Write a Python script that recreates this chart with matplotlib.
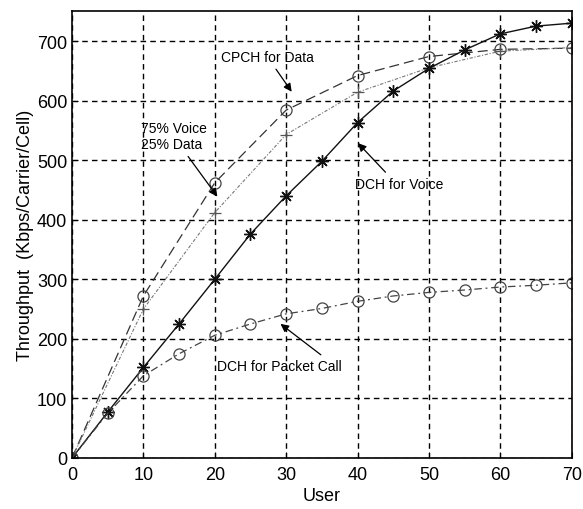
import matplotlib
matplotlib.use("Agg")
import matplotlib.pyplot as plt

# Data
x_data = [0, 10, 20, 30, 40, 50, 60, 70]
cpch_data = [0, 272, 462, 584, 642, 674, 686, 688]
mix_data = [0, 250, 412, 543, 614, 655, 683, 689]

x_five = [0, 5, 10, 15, 20, 25, 30, 35, 40, 45, 50, 55, 60, 65, 70]
dch_voice = [0, 77, 152, 225, 300, 376, 440, 498, 563, 616, 654, 685, 712, 725, 730]
dch_packet = [0, 75, 138, 175, 206, 225, 242, 251, 263, 272, 278, 282, 287, 290, 294]

xticks = [0, 10, 20, 30, 40, 50, 60, 70]
yticks = [0, 100, 200, 300, 400, 500, 600, 700]

plt.rcParams['font.family'] = ['Liberation Sans', 'DejaVu Sans']

fig = plt.figure(figsize=(5.83, 5.10), dpi=100)
ax = fig.add_axes([0.1235, 0.1, 0.857, 0.876])

ax.plot(x_data, cpch_data, color='#333333', lw=0.9, ls=(0, (8, 4)),
        marker='o', ms=8, mfc='none', mec='#444444', mew=0.9)
ax.plot(x_data, mix_data, color='#777777', lw=0.8, ls=(0, (3, 1.5, 1, 1.5)),
        marker='+', ms=8, mec='#555555', mew=0.9)
ax.plot(x_five, dch_voice, color='#111111', lw=1.0, ls='-',
        marker=(8, 2, 0), ms=9, mec='#111111', mew=1.0)
ax.plot(x_five, dch_packet, color='#444444', lw=0.9, ls=(0, (6, 3, 1.5, 3)),
        marker='o', ms=8, mfc='none', mec='#444444', mew=0.9)

ax.set_xlim(0, 70)
ax.set_ylim(0, 750)
ax.set_xticks(xticks)
ax.set_yticks(yticks)
ax.tick_params(direction='in', labelsize=13, length=4, color='black')
ax.tick_params(axis='x', pad=6)
ax.grid(True, color='black', ls=(0, (4, 3)), lw=1.0)
for s in ax.spines.values():
    s.set_linewidth(1.2)

ax.set_xlabel('User', fontsize=13, labelpad=3)
ax.set_ylabel('Throughput  (Kbps/Carrier/Cell)', fontsize=13, labelpad=2)

ap = dict(arrowstyle='-|>', color='black', lw=0.9, mutation_scale=12)
ax.annotate('CPCH for Data', xy=(31.0, 611), xytext=(20.9, 673),
            fontsize=10, va='center', ha='left', arrowprops=ap)
ax.annotate('75% Voice\n25% Data', xy=(20.6, 435), xytext=(9.6, 540),
            fontsize=10, va='center', ha='left', arrowprops=ap,
            linespacing=1.2)
ax.annotate('DCH for Voice', xy=(39.8, 532), xytext=(39.6, 460),
            fontsize=10, va='center', ha='left',
            arrowprops=dict(ap, relpos=(0.4, 1.0)))
ax.annotate('DCH for Packet Call', xy=(28.9, 228), xytext=(20.3, 154),
            fontsize=10, va='center', ha='left',
            arrowprops=dict(ap, relpos=(0.88, 1.0)))

fig.savefig('out.png', dpi=100)
